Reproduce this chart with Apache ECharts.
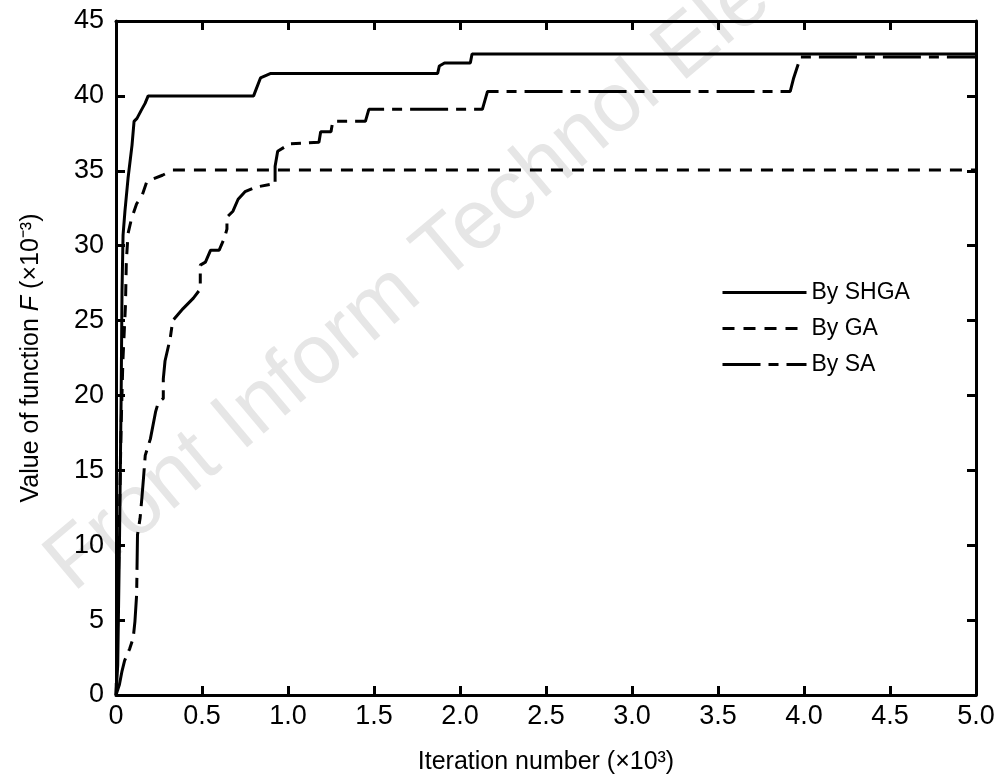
<!DOCTYPE html>
<html>
<head>
<meta charset="utf-8">
<script src="https://cdn.jsdelivr.net/npm/echarts@6/dist/echarts.min.js"></script>
<style>html,body{margin:0;padding:0;background:#fff}#chart{width:1003px;height:780px}</style>
</head>
<body>
<div id="chart"></div>
<script>
// x in ×10^3 iterations, y in ×10^-3
var xTicks = ['0','0.5','1.0','1.5','2.0','2.5','3.0','3.5','4.0','4.5','5.0'];
var shgaX = [0, 0.01, 0.02, 0.03, 0.035, 0.041, 0.052, 0.07, 0.093, 0.105, 0.122, 0.145, 0.169, 0.187, 0.80, 0.81, 0.84, 0.90, 1.87, 1.88, 1.91, 2.06, 2.07, 5.0];
var shgaY = [0, 2, 10, 20, 27, 30.7, 32.3, 34.5, 36.7, 38.3, 38.5, 39.0, 39.5, 40.0, 40.0, 40.3, 41.2, 41.5, 41.5, 42.0, 42.2, 42.2, 42.8, 42.8];
var gaX = [0, 0.01, 0.02, 0.03, 0.04, 0.055, 0.06, 0.07, 0.09, 0.12, 0.15, 0.18, 0.27, 0.33, 5.0];
var gaY = [0, 5, 12, 18, 22.3, 26, 28.9, 30.8, 31.8, 32.8, 33.3, 34.3, 34.7, 35.05, 35.05];
var saX = [0, 0.02, 0.035, 0.05, 0.08, 0.10, 0.11, 0.12, 0.125, 0.14, 0.15, 0.16, 0.17, 0.20, 0.23, 0.245, 0.275, 0.275, 0.285, 0.315, 0.33, 0.39, 0.45, 0.49, 0.49, 0.52, 0.55, 0.60, 0.63, 0.645, 0.645, 0.68, 0.71, 0.75, 0.81, 0.90, 0.925, 0.925, 0.94, 1.01, 1.18, 1.19, 1.25, 1.26, 1.45, 1.47, 2.13, 2.16, 3.92, 3.94, 3.98, 5.0];
var saY = [0, 0.7, 1.6, 2.3, 3.1, 3.8, 4.9, 6.7, 10.7, 11.8, 13.1, 14.5, 16.0, 17.1, 18.9, 19.5, 19.8, 21.1, 22.3, 23.8, 25.0, 25.8, 26.5, 27.1, 28.7, 28.9, 29.7, 29.7, 30.5, 31.1, 31.9, 32.3, 33.1, 33.6, 33.9, 34.1, 34.1, 35.3, 36.3, 36.8, 36.9, 37.6, 37.6, 38.3, 38.3, 39.1, 39.1, 40.3, 40.3, 41.2, 42.6, 42.6];
var seriesNames = ['By SHGA', 'By GA', 'By SA'];

function pairs(xs, ys) { return xs.map(function (x, i) { return [x, ys[i]]; }); }

var chart = echarts.init(document.getElementById('chart'));
var tickFont = "'Liberation Sans Narrow', 'Arial Narrow', 'Liberation Sans', Arial, sans-serif";
var nameFont = "'Liberation Sans', Arial, sans-serif";
var axisLineStyle = { color: '#000', width: 3 };
var tickStyle = { color: '#000', width: 3 };

chart.setOption({
  animation: false,
  backgroundColor: '#fff',
  grid: { left: 116, right: 27, top: 21, bottom: 83, show: false },
  graphic: [{
    type: 'text', z: -10, silent: true,
    x: 425, y: 268, rotation: 40 * Math.PI / 180,
    style: { text: 'Front Inform Technol Elec', fill: '#e6e6e6', font: "84px 'Liberation Sans', Arial, sans-serif", align: 'center', verticalAlign: 'middle' }
  }],
  legend: {
    orient: 'vertical', left: 716, top: 276, itemWidth: 84, itemHeight: 14, itemGap: 13,
    textStyle: { fontSize: 23, color: '#000', fontFamily: nameFont },
    itemStyle: { opacity: 0 },
    lineStyle: { width: 3 },
    data: seriesNames
  },
  xAxis: [{
    type: 'value', min: 0, max: 5, interval: 0.5, position: 'bottom',
    axisLine: { show: true, onZero: false, lineStyle: axisLineStyle },
    axisTick: { show: true, inside: true, length: 9, lineStyle: tickStyle },
    splitLine: { show: false },
    axisLabel: { fontSize: 27, color: '#000', fontFamily: tickFont, margin: 8,
      formatter: function (v) { return xTicks[Math.round(v / 0.5)]; } },
    name: 'Iteration number (×10³)', nameLocation: 'middle', nameGap: 55,
    nameTextStyle: { fontSize: 25, color: '#000', fontFamily: nameFont }
  }, {
    type: 'value', min: 0, max: 5, interval: 0.5, position: 'top',
    axisLine: { show: true, onZero: false, lineStyle: axisLineStyle },
    axisTick: { show: true, inside: true, length: 9, lineStyle: tickStyle },
    splitLine: { show: false }, axisLabel: { show: false }
  }],
  yAxis: [{
    type: 'value', min: 0, max: 45, interval: 5, position: 'left',
    axisLine: { show: true, onZero: false, lineStyle: axisLineStyle },
    axisTick: { show: true, inside: true, length: 9, lineStyle: tickStyle },
    splitLine: { show: false },
    axisLabel: { fontSize: 27, color: '#000', fontFamily: tickFont, margin: 12 },
    name: '{a|Value of function }{i|F}{a| (×10⁻³)}', nameLocation: 'middle', nameGap: 72, nameRotate: 90,
    nameTextStyle: { fontSize: 25, color: '#000', fontFamily: nameFont,
      rich: { a: { fontSize: 25, color: '#000', fontFamily: nameFont },
              i: { fontSize: 25, color: '#000', fontFamily: nameFont, fontStyle: 'italic' } } }
  }, {
    type: 'value', min: 0, max: 45, interval: 5, position: 'right',
    axisLine: { show: true, onZero: false, lineStyle: axisLineStyle },
    axisTick: { show: true, inside: true, length: 9, lineStyle: tickStyle },
    splitLine: { show: false }, axisLabel: { show: false }
  }],
  series: [{
    name: seriesNames[0], type: 'line', data: pairs(shgaX, shgaY), showSymbol: false, symbol: 'none',
    lineStyle: { color: '#000', width: 3, type: 'solid' }, itemStyle: { color: '#000' }, z: 5
  }, {
    name: seriesNames[1], type: 'line', data: pairs(gaX, gaY), showSymbol: false, symbol: 'none',
    lineStyle: { color: '#000', width: 3, type: [12, 9] }, itemStyle: { color: '#000' }, z: 4
  }, {
    name: seriesNames[2], type: 'line', data: pairs(saX, saY), showSymbol: false, symbol: 'none',
    lineStyle: { color: '#000', width: 3, type: [38, 8, 10, 8] }, itemStyle: { color: '#000' }, z: 3
  }]
});
</script>
</body>
</html>
